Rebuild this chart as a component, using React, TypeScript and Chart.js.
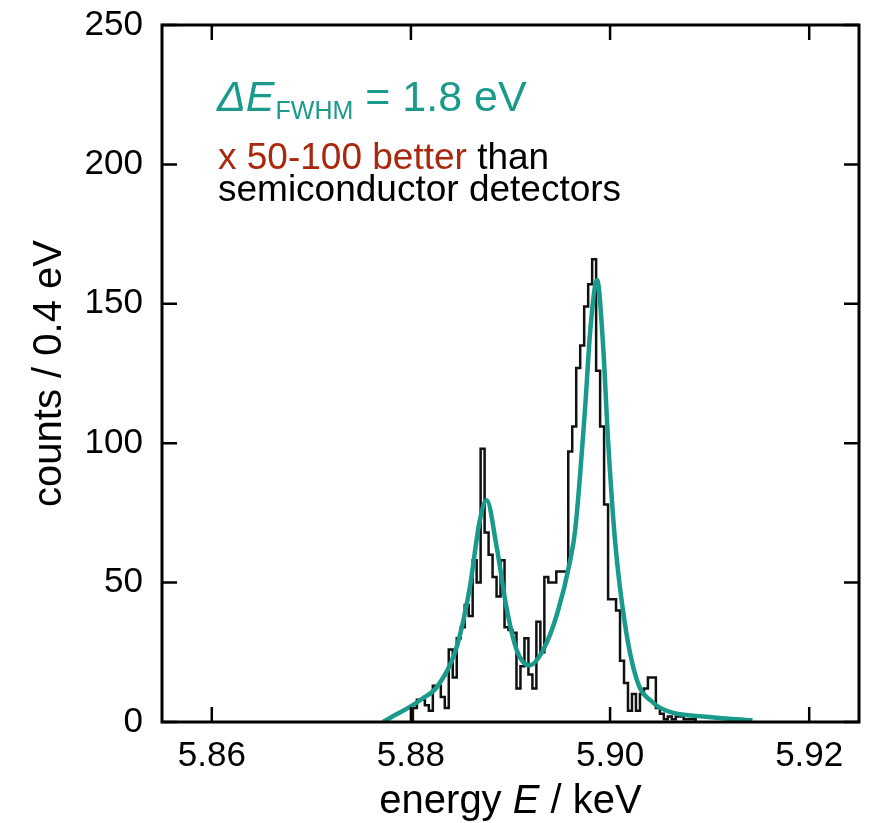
import React, { useEffect, useRef } from "react";
import { Chart, registerables } from "chart.js";

Chart.register(...registerables);

// ---- data ----
const xTicks = [5.86, 5.88, 5.9, 5.92];
const yTicks = [0, 50, 100, 150, 200, 250];

// histogram: counts per 0.4 eV bin, starting at binStart (keV)
const binStart = 5.8802;
const binWidth = 0.0004;
const counts = [
  4, 5, 8, 8, 6, 4, 13, 13, 9, 5,
  26, 16, 30, 34, 42, 38, 58, 50, 98, 68,
  60, 52, 45, 58, 34, 33, 32, 12, 20, 30,
  17, 12, 36, 25, 52, 50, 50, 54, 54, 54,
  97, 106, 127, 135, 149, 157, 166, 126, 106, 78,
  44, 44, 40, 22, 14, 4, 10, 4, 10, 12,
  16, 16, 5, 3, 1, 2, 1, 2, 2, 1,
  1,
];

// fitted curve
const fitEnergy = [
  5.8772, 5.8784, 5.8799, 5.8812, 5.8826, 5.8846, 5.8859, 5.8869, 5.8876, 5.8886,
  5.8896, 5.8906, 5.8919, 5.8933, 5.8947, 5.896, 5.8965, 5.8975, 5.898, 5.8987,
  5.8993, 5.8998, 5.9005, 5.9015, 5.9027, 5.9043, 5.906, 5.9093, 5.9143,
];
const fitCounts = [
  0, 2.5, 5.4, 8.5, 12.5, 27, 48, 72, 79.5, 63,
  41, 26, 20.3, 26, 39, 58, 69, 113, 140, 158.5,
  135, 101, 65, 35, 15, 7, 3.6, 2, 0.6,
];

const xMin = 5.855;
const xMax = 5.925;
const yMin = 0;
const yMax = 250;

const FONT = '"Liberation Sans", Arial, Helvetica, sans-serif';
const TEAL = "#1a9a8a";
const RED = "#a8290e";

const decorPlugin = {
  id: "decor",
  afterDraw(chart: any) {
    const { ctx, chartArea: a, scales } = chart;
    const x = scales.x;
    const y = scales.y;
    ctx.save();
    // frame
    ctx.strokeStyle = "#000";
    ctx.lineWidth = 3;
    ctx.strokeRect(a.left, a.top, a.right - a.left, a.bottom - a.top);
    // inward ticks on all four sides
    const L = 15;
    ctx.lineWidth = 2.5;
    ctx.beginPath();
    xTicks.forEach((v) => {
      const px = x.getPixelForValue(v);
      ctx.moveTo(px, a.bottom);
      ctx.lineTo(px, a.bottom - L);
      ctx.moveTo(px, a.top);
      ctx.lineTo(px, a.top + L);
    });
    yTicks.forEach((v) => {
      const py = y.getPixelForValue(v);
      ctx.moveTo(a.left, py);
      ctx.lineTo(a.left + L, py);
      ctx.moveTo(a.right, py);
      ctx.lineTo(a.right - L, py);
    });
    ctx.stroke();

    // x-axis title with italic E
    ctx.fillStyle = "#000";
    ctx.textBaseline = "alphabetic";
    ctx.textAlign = "left";
    const tSize = 40;
    const parts = [
      { t: "energy ", f: `${tSize}px ${FONT}` },
      { t: "E", f: `italic ${tSize}px ${FONT}` },
      { t: " / keV", f: `${tSize}px ${FONT}` },
    ];
    let total = 0;
    parts.forEach((p) => {
      ctx.font = p.f;
      total += ctx.measureText(p.t).width;
    });
    let cx = (a.left + a.right) / 2 - total / 2;
    parts.forEach((p) => {
      ctx.font = p.f;
      ctx.fillText(p.t, cx, 813);
      cx += ctx.measureText(p.t).width;
    });

    // y-axis title
    ctx.save();
    ctx.translate(61, (a.top + a.bottom) / 2);
    ctx.rotate(-Math.PI / 2);
    ctx.textAlign = "center";
    ctx.font = `${tSize}px ${FONT}`;
    ctx.fillText("counts / 0.4 eV", 0, 0);
    ctx.restore();

    // annotation: ΔE_FWHM = 1.8 eV
    ctx.textAlign = "left";
    ctx.fillStyle = TEAL;
    let ax = 217;
    ctx.font = `italic 43px ${FONT}`;
    ctx.fillText("ΔE", ax, 111);
    ax += ctx.measureText("ΔE").width + 1;
    ctx.font = `25px ${FONT}`;
    ctx.fillText("FWHM", ax, 119);
    ax += ctx.measureText("FWHM").width;
    ctx.font = `43px ${FONT}`;
    ctx.fillText(" = 1.8 eV", ax, 111);

    // annotation lines 2-3
    ctx.font = `37px ${FONT}`;
    ctx.fillStyle = RED;
    ax = 218;
    ctx.fillText("x 50-100 better", ax, 169);
    ax += ctx.measureText("x 50-100 better").width;
    ctx.fillStyle = "#000";
    ctx.fillText(" than", ax, 169);
    ctx.fillText("semiconductor detectors", 218, 201);
    ctx.restore();
  },
};

export default function App() {
  const ref = useRef<HTMLCanvasElement>(null);
  useEffect(() => {
    if (!ref.current) return;
    const histData: { x: number; y: number }[] = [{ x: binStart, y: 0 }];
    counts.forEach((c, k) => histData.push({ x: binStart + k * binWidth, y: c }));
    const end = binStart + counts.length * binWidth;
    histData.push({ x: end, y: counts[counts.length - 1] });
    histData.push({ x: end, y: 0 });
    const fitData = fitEnergy.map((e, i) => ({ x: e, y: fitCounts[i] }));

    const chart = new Chart(ref.current, {
      type: "line",
      data: {
        datasets: [
          {
            label: "fit",
            data: fitData,
            borderColor: TEAL,
            borderWidth: 4.5,
            pointRadius: 0,
            fill: false,
            cubicInterpolationMode: "monotone",
            order: 0,
          },
          {
            label: "counts",
            data: histData,
            borderColor: "#111",
            borderWidth: 2.5,
            pointRadius: 0,
            fill: false,
            stepped: "after",
            order: 1,
          },
        ],
      },
      options: {
        animation: false,
        responsive: false,
        maintainAspectRatio: false,
        layout: { padding: { left: 0, right: 10, top: 25, bottom: 0 } },
        plugins: {
          legend: { display: false },
          tooltip: { enabled: false },
          title: { display: false },
        },
        scales: {
          x: {
            type: "linear",
            min: xMin,
            max: xMax,
            grid: { display: false, drawTicks: false },
            border: { display: false },
            afterBuildTicks: (s: any) => {
              s.ticks = xTicks.map((v) => ({ value: v }));
            },
            afterFit: (s: any) => {
              s.height = 101;
              s.paddingLeft = 0;
              s.paddingRight = 0;
            },
            ticks: {
              padding: 13,
              color: "#000",
              font: { family: FONT, size: 35 },
              maxRotation: 0,
              autoSkip: false,
              callback: (v: any) => Number(v).toFixed(2),
            },
          },
          y: {
            type: "linear",
            min: yMin,
            max: yMax,
            grid: { display: false, drawTicks: false },
            border: { display: false },
            afterBuildTicks: (s: any) => {
              s.ticks = yTicks.map((v) => ({ value: v }));
            },
            afterFit: (s: any) => {
              s.width = 162;
              s.paddingTop = 0;
              s.paddingBottom = 0;
            },
            ticks: {
              padding: 19,
              color: "#000",
              font: { family: FONT, size: 35 },
              autoSkip: false,
              callback: (v: any) => String(v),
            },
          },
        },
      },
      plugins: [decorPlugin],
    });
    return () => chart.destroy();
  }, []);

  return (
    <div style={{ position: "fixed", left: 0, top: 0, width: 869, height: 823, background: "#fff" }}>
      <canvas ref={ref} width={869} height={823} style={{ width: 869, height: 823 }} />
    </div>
  );
}
